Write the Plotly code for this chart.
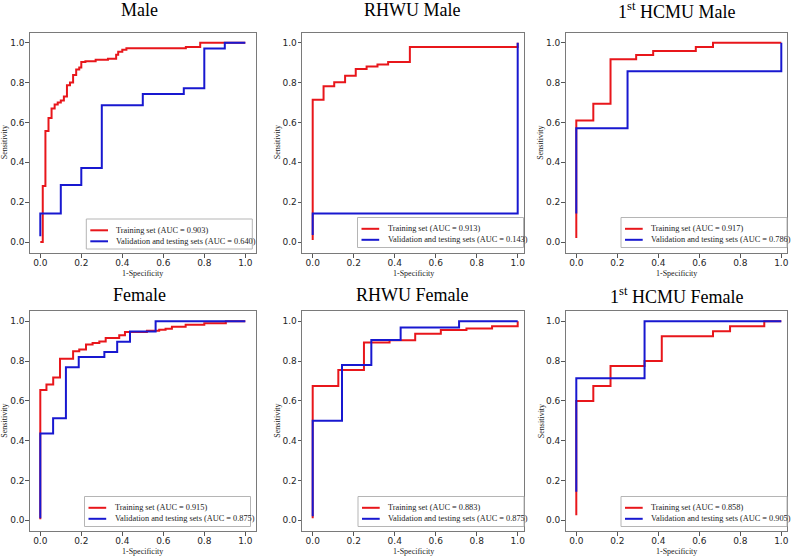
import plotly.graph_objects as go

W, H = 793, 556

# ---------------- data ----------------
panel_titles = ["Male", "RHWU Male", "1<sup>st</sup> HCMU Male",
                "Female", "RHWU Female", "1<sup>st</sup> HCMU Female"]
train_label = "Training set"
valid_label = "Validation and testing sets"
train_auc = [0.903, 0.913, 0.917, 0.915, 0.883, 0.858]
valid_auc = [0.640, 0.143, 0.786, 0.875, 0.875, 0.905]
tick_vals = [0.0, 0.2, 0.4, 0.6, 0.8, 1.0]
tick_text = ["0.0", "0.2", "0.4", "0.6", "0.8", "1.0"]

male_train_fpr = [0.0, 0.012, 0.025, 0.040, 0.055, 0.070, 0.085, 0.100, 0.115, 0.130, 0.145, 0.160,
                  0.175, 0.190, 0.200, 0.220, 0.270, 0.330, 0.370, 0.380, 0.400, 0.420, 0.710, 0.780, 1.0]
male_train_tpr = [0.0, 0.281, 0.557, 0.622, 0.670, 0.690, 0.700, 0.710, 0.730, 0.786, 0.800, 0.838,
                  0.865, 0.875, 0.903, 0.907, 0.915, 0.920, 0.940, 0.955, 0.965, 0.972, 0.978, 1.0, 1.0]
male_valid_fpr = [0.0, 0.0, 0.1, 0.2, 0.3, 0.5, 0.7, 0.8, 0.9, 1.0]
male_valid_tpr = [0.029, 0.143, 0.286, 0.371, 0.686, 0.743, 0.771, 0.971, 1.0, 1.0]

rhwu_male_train_fpr = [0.0, 0.0, 0.053, 0.105, 0.158, 0.210, 0.263, 0.316, 0.368, 0.474, 1.0]
rhwu_male_train_tpr = [0.01, 0.714, 0.781, 0.801, 0.834, 0.868, 0.881, 0.891, 0.903, 0.978, 1.0]
rhwu_male_valid_fpr = [0.0, 0.0, 1.0]
rhwu_male_valid_tpr = [0.035, 0.143, 1.0]

hcmu_male_train_fpr = [0.0, 0.0, 0.083, 0.167, 0.292, 0.375, 0.583, 0.667, 1.0]
hcmu_male_train_tpr = [0.02, 0.61, 0.694, 0.917, 0.938, 0.958, 0.979, 1.0, 1.0]
hcmu_male_valid_fpr = [0.0, 0.0, 0.25, 1.0]
hcmu_male_valid_tpr = [0.143, 0.571, 0.857, 1.0]

female_train_fpr = [0.0, 0.0, 0.030, 0.063, 0.096, 0.160, 0.190, 0.223, 0.255, 0.288, 0.319, 0.385,
                    0.413, 0.520, 0.580, 0.611, 0.642, 0.709, 0.800, 0.905, 1.0]
female_train_tpr = [0.005, 0.655, 0.683, 0.717, 0.812, 0.849, 0.858, 0.883, 0.891, 0.898, 0.916, 0.930,
                    0.946, 0.953, 0.957, 0.962, 0.972, 0.983, 0.990, 1.0, 1.0]
female_valid_fpr = [0.0, 0.0, 0.0625, 0.125, 0.1875, 0.3125, 0.375, 0.4375, 0.5625, 1.0]
female_valid_tpr = [0.01, 0.436, 0.513, 0.769, 0.821, 0.846, 0.897, 0.949, 1.0, 1.0]

rhwu_female_train_fpr = [0.0, 0.0, 0.125, 0.25, 0.375, 0.5, 0.625, 0.75, 0.875, 1.0]
rhwu_female_train_tpr = [0.01, 0.675, 0.755, 0.894, 0.905, 0.938, 0.956, 0.964, 0.975, 1.0]
rhwu_female_valid_fpr = [0.0, 0.0, 0.143, 0.286, 0.429, 0.714, 1.0]
rhwu_female_valid_tpr = [0.02, 0.5, 0.781, 0.906, 0.969, 1.0, 1.0]

hcmu_female_train_fpr = [0.0, 0.0, 0.083, 0.167, 0.333, 0.417, 0.667, 0.75, 0.917, 1.0]
hcmu_female_train_tpr = [0.025, 0.6, 0.675, 0.775, 0.8, 0.925, 0.95, 0.975, 1.0, 1.0]
hcmu_female_valid_fpr = [0.0, 0.0, 0.333, 1.0]
hcmu_female_valid_tpr = [0.143, 0.714, 1.0, 1.0]

curves = [
    (male_train_fpr, male_train_tpr, male_valid_fpr, male_valid_tpr),
    (rhwu_male_train_fpr, rhwu_male_train_tpr, rhwu_male_valid_fpr, rhwu_male_valid_tpr),
    (hcmu_male_train_fpr, hcmu_male_train_tpr, hcmu_male_valid_fpr, hcmu_male_valid_tpr),
    (female_train_fpr, female_train_tpr, female_valid_fpr, female_valid_tpr),
    (rhwu_female_train_fpr, rhwu_female_train_tpr, rhwu_female_valid_fpr, rhwu_female_valid_tpr),
    (hcmu_female_train_fpr, hcmu_female_train_tpr, hcmu_female_valid_fpr, hcmu_female_valid_tpr),
]

# ---------------- layout geometry (pixels) ----------------
RED = "#e8161b"
BLUE = "#1818d0"
SERIF = "Liberation Serif, Times New Roman, serif"
SANS = "DejaVu Sans, sans-serif"

col_box = [(30.0, 255.8), (302.3, 524.3), (565.7, 787.3)]   # axes frame left/right
col_x0 = [40.3, 312.7, 576.3]                               # pixel of x = 0
x_ppu = 205.0
row_box = [(32.5, 253.0), (311.3, 531.0)]                   # axes frame top/bottom
row_y0 = [242.0, 520.3]                                      # pixel of y = 0
y_ppu = [199.3, 199.0]

title_cx = [139.5, 412.0, 676.0]
title_cy = [10.5, 295.0]
ytitle_cx = [4.5, 277.5, 541.0]
xtitle_cy = [273.0, 551.5]

leg_right = [252.3, 523.5, 787.0, 250.5, 524.0, 787.0]
leg_bottom = [249.0, 247.5, 247.5, 526.5, 526.5, 526.5]
leg_w, leg_h = 166.0, 30.0


def px(xp):
    return xp / W


def py(yp):
    return 1 - yp / H


fig = go.Figure()
layout = dict(
    width=W, height=H, margin=dict(l=0, r=0, t=0, b=0),
    paper_bgcolor="white", plot_bgcolor="white", showlegend=False,
    template="none",
)
annotations = []
shapes = []

for i in range(6):
    r, c = divmod(i, 3)
    n = "" if i == 0 else str(i + 1)
    L, R = col_box[c]
    T, B = row_box[r]
    x0 = col_x0[c]
    y0 = row_y0[r]
    xr = [(L - x0) / x_ppu, (R - x0) / x_ppu]
    yr = [(y0 - B) / y_ppu[r], (y0 - T) / y_ppu[r]]
    common = dict(
        showgrid=False, zeroline=False, showline=True, mirror=True,
        linecolor="#7a7a7a", linewidth=1.3, ticks="outside", ticklen=3.5,
        tickwidth=1, tickcolor="#555555", tickvals=tick_vals, ticktext=tick_text,
        tickfont=dict(family=SANS, size=9, color="#262626"), automargin=False,
    )
    layout["xaxis" + n] = dict(domain=[px(L), px(R)], range=xr, anchor="y" + n,
                               ticklabelstandoff=-2, **common)
    layout["yaxis" + n] = dict(domain=[py(B), py(T)], range=yr, anchor="x" + n,
                               ticklabelstandoff=-1, **common)

    tf, tt, vf, vt = curves[i]
    fig.add_trace(go.Scatter(x=tf, y=tt, mode="lines", line=dict(color=RED, width=2, shape="hv"),
                             xaxis="x" + n, yaxis="y" + n, name=train_label, hoverinfo="skip"))
    fig.add_trace(go.Scatter(x=vf, y=vt, mode="lines", line=dict(color=BLUE, width=2, shape="hv"),
                             xaxis="x" + n, yaxis="y" + n, name=valid_label, hoverinfo="skip"))

    # panel title
    annotations.append(dict(text=panel_titles[i], x=px(title_cx[c]), y=py(title_cy[r]),
                            xref="paper", yref="paper", xanchor="center", yanchor="middle",
                            showarrow=False, font=dict(family=SERIF, size=18, color="black")))
    # axis titles
    annotations.append(dict(text="1-Specificity", x=px((L + R) / 2), y=py(xtitle_cy[r]),
                            xref="paper", yref="paper", xanchor="center", yanchor="middle",
                            showarrow=False, font=dict(family=SERIF, size=8, color="#222")))
    annotations.append(dict(text="Sensitivity", x=px(ytitle_cx[c]), y=py((T + B) / 2),
                            xref="paper", yref="paper", xanchor="center", yanchor="middle",
                            textangle=-90, showarrow=False,
                            font=dict(family=SERIF, size=8, color="#222")))

    # legend box
    lr, lb = leg_right[i], leg_bottom[i]
    ll, lt = lr - leg_w, lb - leg_h
    shapes.append(dict(type="rect", xref="paper", yref="paper",
                       x0=px(ll), x1=px(lr), y0=py(lb), y1=py(lt),
                       line=dict(color="#b5b5b5", width=1), fillcolor="rgba(255,255,255,0.85)"))
    entries = [(f"{train_label} (AUC = {train_auc[i]:.3f})", RED, 11.3),
               (f"{valid_label} (AUC = {valid_auc[i]:.3f})", BLUE, 22.3)]
    for txt, col, dy in entries:
        shapes.append(dict(type="line", xref="paper", yref="paper",
                           x0=px(ll + 4), x1=px(ll + 21.7), y0=py(lt + dy), y1=py(lt + dy),
                           line=dict(color=col, width=2)))
        annotations.append(dict(text=txt, x=px(ll + 28), y=py(lt + dy), xref="paper", yref="paper",
                                xanchor="left", yanchor="middle", showarrow=False,
                                font=dict(family=SERIF, size=8.3, color="#222")))

layout["annotations"] = annotations
layout["shapes"] = shapes
fig.update_layout(**layout)
fig.write_html("out.html", config={"displayModeBar": False},
               post_script="document.body.style.margin='0px';")
